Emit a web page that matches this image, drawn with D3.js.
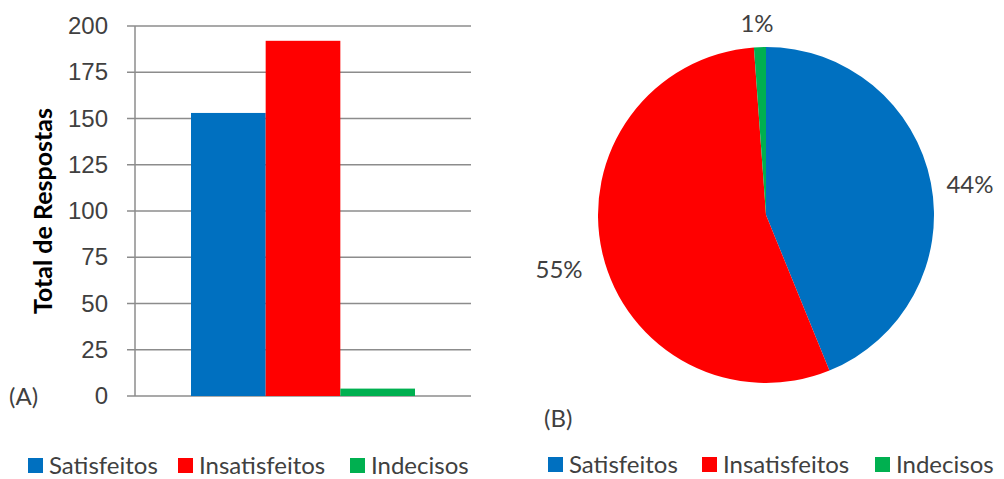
<!DOCTYPE html>
<html>
<head>
<meta charset="utf-8">
<script src="https://cdn.jsdelivr.net/npm/d3@7"></script>
<style>
  body { margin: 0; background: #fff; }
  svg { display: block; font-family: Lato, "Open Sans", sans-serif; }
  .axis text { fill: #404040; font-size: 24px; }
</style>
</head>
<body>
<div id="chart"></div>
<script>
// data
const series = ["Satisfeitos", "Insatisfeitos", "Indecisos"];
const totals = [153, 192, 4];
const percentLabels = ["44%", "55%", "1%"];
const colors = ["#0070c0", "#ff0000", "#00b050"];
const yTicks = [0, 25, 50, 75, 100, 125, 150, 175, 200];

const width = 1004;
const height = 479;

const svg = d3.select("#chart")
  .append("svg")
  .attr("width", width)
  .attr("height", height);

// (A) bar chart
const plot = { left: 135, right: 471, top: 26, bottom: 396 };

const yScale = d3.scaleLinear().domain([0, 200]).range([plot.bottom, plot.top]);
const x0 = d3.scaleBand().domain(["total"]).range([plot.left, plot.right])
  .paddingInner(0).paddingOuter(0.25);
const x1 = d3.scaleBand().domain(series).range([0, x0.bandwidth()]);

// gridlines
svg.append("g")
  .attr("class", "gridlines")
  .selectAll("line")
  .data(yTicks)
  .join("line")
  .attr("x1", plot.left - 8)
  .attr("x2", plot.right)
  .attr("y1", d => yScale(d))
  .attr("y2", d => yScale(d))
  .attr("stroke", "#8c8c8c")
  .attr("stroke-width", 1.5);

svg.append("line")
  .attr("x1", plot.left).attr("x2", plot.left)
  .attr("y1", plot.top).attr("y2", plot.bottom)
  .attr("stroke", "#8c8c8c")
  .attr("stroke-width", 1.5);

const yAxis = d3.axisLeft(yScale).tickValues(yTicks).tickSize(0).tickPadding(0);
const yg = svg.append("g")
  .attr("class", "axis")
  .attr("transform", `translate(${plot.left - 27}, 0)`)
  .call(yAxis);
yg.select(".domain").remove();
yg.selectAll("text").attr("font-family", null).attr("font-size", null);

svg.append("g")
  .selectAll("rect")
  .data(series)
  .join("rect")
  .attr("x", d => x0("total") + x1(d))
  .attr("y", (d, i) => yScale(totals[i]))
  .attr("width", x1.bandwidth())
  .attr("height", (d, i) => yScale(0) - yScale(totals[i]))
  .attr("fill", (d, i) => colors[i]);

svg.append("text")
  .attr("transform", `translate(52, 211) rotate(-90)`)
  .attr("text-anchor", "middle")
  .attr("font-weight", "bold")
  .attr("font-size", 25)
  .attr("fill", "#000")
  .text("Total de Respostas");

svg.append("text")
  .attr("x", 9).attr("y", 405)
  .attr("font-size", 24)
  .attr("fill", "#404040")
  .text("(A)");

// legends
function legend(x, y, positions) {
  const g = svg.append("g").attr("transform", `translate(${x}, ${y})`);
  const items = g.selectAll("g")
    .data(series)
    .join("g")
    .attr("transform", (d, i) => `translate(${positions[i]}, 0)`);
  items.append("rect")
    .attr("x", 0).attr("y", -8)
    .attr("width", 15).attr("height", 15)
    .attr("fill", (d, i) => colors[i]);
  items.append("text")
    .attr("x", 21).attr("y", 8)
    .attr("font-size", 24)
    .attr("fill", "#404040")
    .text(d => d);
}
legend(28, 466, [0, 150, 322]);

// (B) pie chart
const cx = 766, cy = 215, radius = 168;
const pie = d3.pie().sort(null).value(d => d);
const arc = d3.arc().innerRadius(0).outerRadius(radius);
const arcs = pie(totals);

const pg = svg.append("g").attr("transform", `translate(${cx}, ${cy})`);
pg.selectAll("path")
  .data(arcs)
  .join("path")
  .attr("d", arc)
  .attr("fill", (d, i) => colors[i]);

const labelOffsets = [[204, -30], [-207, 55], [-9, -191]];
pg.selectAll("text.pct")
  .data(arcs)
  .join("text")
  .attr("class", "pct")
  .attr("x", (d, i) => labelOffsets[i][0])
  .attr("y", (d, i) => labelOffsets[i][1] + 8)
  .attr("text-anchor", "middle")
  .attr("font-size", 24)
  .attr("fill", "#404040")
  .text((d, i) => percentLabels[i]);

svg.append("text")
  .attr("x", 544).attr("y", 427)
  .attr("font-size", 24)
  .attr("fill", "#404040")
  .text("(B)");

legend(548, 465, [0, 154, 327]);
</script>
</body>
</html>
